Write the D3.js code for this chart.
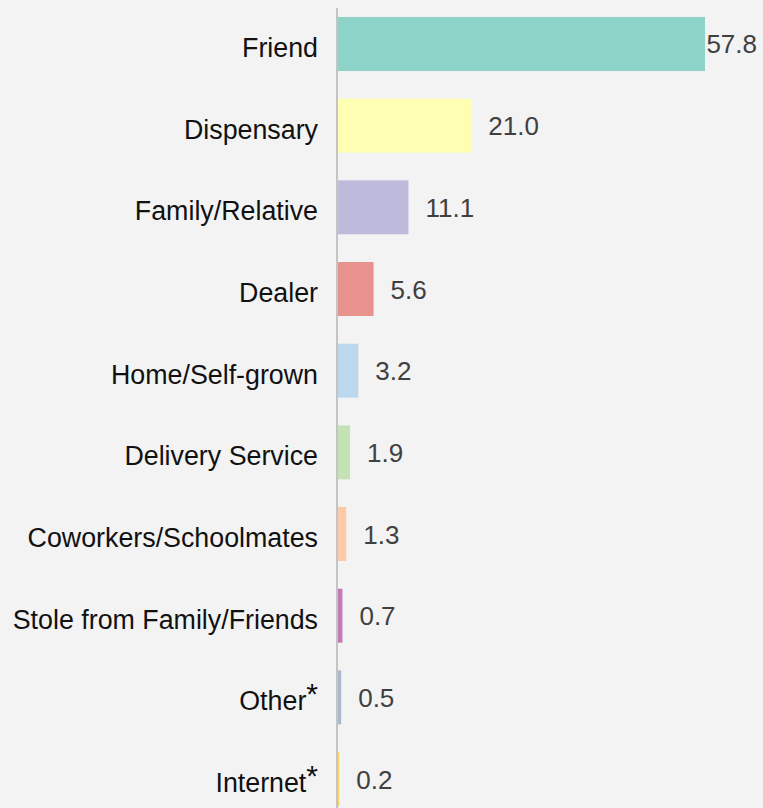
<!DOCTYPE html>
<meta charset="utf-8">
<style>
  body { margin: 0; background: #f3f3f3; }
  svg { display: block; font-family: "Liberation Sans", Arial, sans-serif; }
  .label { fill: #111; font-size: 26.8px; }
  .value { fill: #404040; font-size: 26px; }
</style>
<svg width="763" height="808"></svg>
<script src="https://d3js.org/d3.v7.min.js"></script>
<script>
  var sources = ["Friend", "Dispensary", "Family/Relative", "Dealer", "Home/Self-grown",
    "Delivery Service", "Coworkers/Schoolmates", "Stole from Family/Friends", "Other", "Internet"];
  var percents = [57.8, 21.0, 11.1, 5.6, 3.2, 1.9, 1.3, 0.7, 0.5, 0.2];
  var starred = ["Other", "Internet"];
  var colors = ["#8dd3c7", "#ffffb3", "#bebadb", "#e8928e", "#bcd8ee",
    "#c5e2b6", "#fbcaa8", "#c27bb8", "#a9b8cf", "#fdd562"];

  var svg = d3.select("svg");
  var W = +svg.attr("width"), H = +svg.attr("height");
  svg.append("rect").attr("width", W).attr("height", H).attr("fill", "#f3f3f3");

  var x0 = 338;
  var x = d3.scaleLinear().domain([0, 57.8]).range([x0, 705]);
  var step = 81.67;
  var y = d3.scaleBand()
    .domain(sources)
    .range([17 - 0.1695 * step, 17 - 0.1695 * step + sources.length * step])
    .paddingInner(0.339)
    .paddingOuter(0.1695);

  var rows = sources.map(function(s, i) { return {name: s, v: percents[i], c: colors[i]}; });

  svg.selectAll(".bar").data(rows).join("rect")
    .attr("class", "bar")
    .attr("x", x0)
    .attr("y", function(d) { return y(d.name); })
    .attr("width", function(d) { return x(d.v) - x0; })
    .attr("height", y.bandwidth())
    .attr("fill", function(d) { return d.c; });

  svg.append("line")
    .attr("x1", x0 - 1).attr("x2", x0 - 1)
    .attr("y1", 8).attr("y2", H)
    .attr("stroke", "#c4c4c4").attr("stroke-width", 2);

  var labels = svg.selectAll(".label").data(rows).join("text")
    .attr("class", "label")
    .attr("text-anchor", "end")
    .attr("x", 318)
    .attr("y", function(d) { return y(d.name) + y.bandwidth() / 2 + 13; });
  labels.append("tspan").text(function(d) { return d.name; });
  labels.filter(function(d) { return starred.indexOf(d.name) >= 0; })
    .append("tspan").attr("dy", -6).attr("font-size", "30px").text("*");

  svg.selectAll(".value").data(rows).join("text")
    .attr("class", "value")
    .attr("y", function(d) { return y(d.name) + y.bandwidth() / 2 + 9.5; })
    .text(function(d) { return d.v.toFixed(1); })
    .attr("x", function(d) {
      var w = this.getComputedTextLength();
      return Math.min(x(d.v) + 17, W - 6 - w);
    });
</script>
